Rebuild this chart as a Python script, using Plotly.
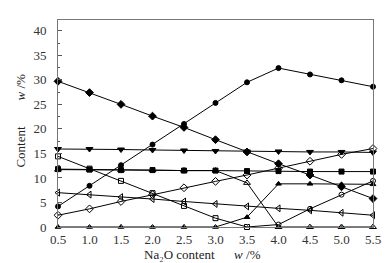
import plotly.graph_objects as go

x_vals = [0.5, 1.0, 1.5, 2.0, 2.5, 3.0, 3.5, 4.0, 4.5, 5.0, 5.5]

filled_diamond = [29.7, 27.4, 25.0, 22.6, 20.3, 17.8, 15.3, 12.9, 10.6, 8.2, 5.8]
filled_circle = [4.2, 8.4, 12.6, 16.8, 21.0, 25.3, 29.5, 32.4, 31.1, 29.9, 28.6]
filled_down_tri = [15.9, 15.9, 15.8, 15.7, 15.6, 15.5, 15.4, 15.4, 15.3, 15.3, 15.2]
filled_square = [11.8, 11.7, 11.6, 11.6, 11.5, 11.5, 11.4, 11.4, 11.3, 11.3, 11.3]
open_up_tri = [11.7, 11.7, 11.6, 11.6, 11.5, 11.5, 9.0, 0.0, 0.0, 0.0, 0.0]
open_square = [14.4, 11.9, 9.4, 6.9, 4.3, 1.8, 0.0, 0.5, 3.7, 6.6, 9.4]
open_diamond = [2.4, 3.7, 5.2, 6.6, 8.0, 9.3, 10.6, 12.0, 13.4, 14.8, 16.0]
open_left_tri = [7.0, 6.6, 6.1, 5.7, 5.2, 4.7, 4.2, 3.8, 3.4, 2.9, 2.4]
filled_up_tri = [0.0, 0.0, 0.0, 0.0, 0.0, 0.0, 2.0, 8.8, 8.8, 8.7, 8.7]

x_ticks = [0.5, 1.0, 1.5, 2.0, 2.5, 3.0, 3.5, 4.0, 4.5, 5.0, 5.5]
x_tick_labels = ["0.5", "1.0", "1.5", "2.0", "2.5", "3.0", "3.5", "4.0", "4.5", "5.0", "5.5"]
y_ticks = [0, 5, 10, 15, 20, 25, 30, 35, 40]

series = [
    (filled_diamond, "diamond", 6),
    (filled_circle, "circle", 5),
    (filled_down_tri, "triangle-down", 6),
    (open_up_tri, "triangle-up-open", 6),
    (filled_square, "square", 5),
    (open_square, ["square-open"] * 7 + ["circle-open"] * 4, 5),
    (open_diamond, "diamond-open", 6),
    (open_left_tri, "triangle-left-open", 6),
    (filled_up_tri, "triangle-up", 5),
]

fig = go.Figure()
for vals, sym, size in series:
    fig.add_trace(go.Scatter(
        x=x_vals, y=vals, mode="lines+markers",
        line=dict(color="black", width=1),
        marker=dict(symbol=sym, size=size, color="black",
                    line=dict(color="black", width=1)),
        cliponaxis=False, showlegend=False,
    ))

font_family = "Liberation Serif"
fig.update_layout(
    width=392, height=263,
    margin=dict(l=50, r=27, t=12, b=44),
    paper_bgcolor="white", plot_bgcolor="white",
    font=dict(family=font_family, size=13, color="#333"),
    xaxis=dict(
        range=[0.5, 5.5], tickvals=x_ticks, ticktext=x_tick_labels,
        ticks="inside", ticklen=3, tickcolor="#555", ticklabelstandoff=0,
        tickfont=dict(family=font_family, size=13, color="#333"),
        showline=True, linecolor="#777", linewidth=1, mirror=True,
        showgrid=False, zeroline=False,
    ),
    yaxis=dict(
        range=[0, 42.2], tickvals=y_ticks,
        ticks="inside", ticklen=4, tickcolor="#555", ticklabelstandoff=8,
        tickfont=dict(family=font_family, size=13, color="#333"),
        minor=dict(dtick=2.5, ticks="inside", ticklen=2, tickcolor="#555"),
        showline=True, linecolor="#777", linewidth=1, mirror=True,
        showgrid=False, zeroline=False,
    ),
    annotations=[
        dict(text="Na\u2082O content&nbsp;&nbsp;&nbsp;&nbsp;&nbsp;&nbsp;<i>w</i> /%",
             xref="paper", yref="paper", x=0.46, y=-0.134,
             xanchor="center", yanchor="middle", showarrow=False,
             font=dict(family=font_family, size=13, color="#222")),
        dict(text="Content&nbsp;&nbsp;&nbsp;&nbsp;&nbsp;&nbsp;&nbsp;&nbsp;<i>w</i> /%",
             xref="paper", yref="paper", x=-0.122, y=0.512, textangle=-90,
             xanchor="center", yanchor="middle", showarrow=False,
             font=dict(family=font_family, size=13, color="#222")),
    ],
)

fig.write_html("out.html")
